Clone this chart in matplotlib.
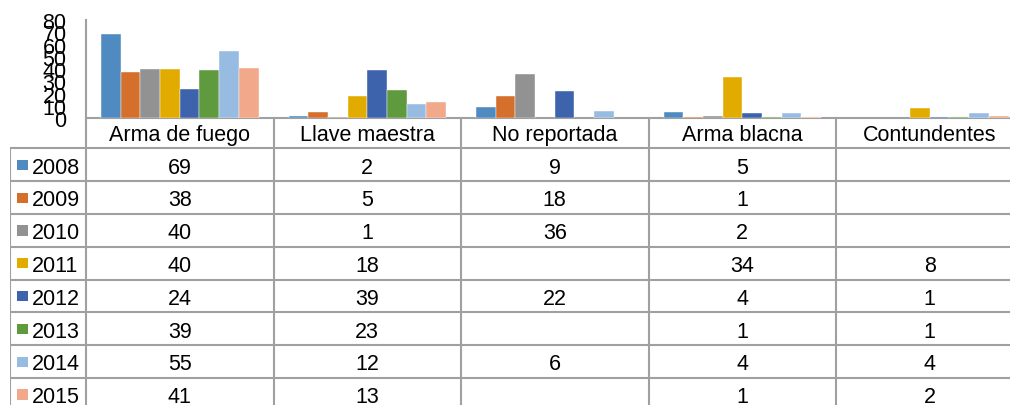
import matplotlib.pyplot as plt
import numpy as np
from matplotlib.patches import Rectangle

# Data read off the chart / table (None = blank cell, no bar)
categories = ['Arma de fuego', 'Llave maestra', 'No reportada', 'Arma blacna', 'Contundentes']
years = ['2008', '2009', '2010', '2011', '2012', '2013', '2014', '2015']
v2008 = [69, 2, 9, 5, None]
v2009 = [38, 5, 18, 1, None]
v2010 = [40, 1, 36, 2, None]
v2011 = [40, 18, None, 34, 8]
v2012 = [24, 39, 22, 4, 1]
v2013 = [39, 23, None, 1, 1]
v2014 = [55, 12, 6, 4, 4]
v2015 = [41, 13, None, 1, 2]
series = [v2008, v2009, v2010, v2011, v2012, v2013, v2014, v2015]
colors = ['#4F8BC0', '#D4702C', '#929292', '#E2AB00', '#3C63AC', '#5F9A3F', '#98BBE1', '#F1A88B']
y_ticks = [0, 10, 20, 30, 40, 50, 60, 70, 80]

plt.rcParams['font.family'] = ['Liberation Sans', 'DejaVu Sans']
FS = 15.5
GRID = '#A0A0A0'

W, H = 1010, 406
fig = plt.figure(figsize=(W / 100, H / 100), dpi=100)

# pixel layout of the chart + data table
x0 = 86          # left of first category column
cw = 187.5       # category column width
y_top = 21       # top of value axis
y_base = 119.3   # zero line / top of table header
head_h = 30
row_h = 32.8
x_left = 10      # left edge of legend column
n_cat = len(categories)
x_right = x0 + n_cat * cw
y_bottom = y_base + head_h + len(years) * row_h

# bar chart (bars sit above the axis line so tiny values still show)
ax = fig.add_axes([x0 / W, 1 - y_base / H, n_cat * cw / W, (y_base - y_top) / H])
bw = 0.105
pos = np.arange(n_cat)
for i, (vals, c) in enumerate(zip(series, colors)):
    h = [np.nan if v is None else v for v in vals]
    ax.bar(pos + (i - 3.5) * bw, h, bw, color=c, edgecolor='white', linewidth=0.3, zorder=3)
ax.set_xlim(-0.5, n_cat - 0.5)
ax.set_ylim(0, 80)
ax.set_yticks(y_ticks)
ax.set_yticklabels([str(t) for t in y_ticks], fontsize=FS)
ax.tick_params(axis='y', length=0, pad=14)
ax.set_xticks([])
for s in ['top', 'right']:
    ax.spines[s].set_visible(False)
for s in ['left', 'bottom']:
    ax.spines[s].set_color(GRID)
    ax.spines[s].set_linewidth(1.5)
ax.patch.set_alpha(0)

# data table underneath, drawn in pixel units
tax = fig.add_axes([x_left / W, 1 - y_bottom / H, (x_right - x_left) / W, (y_bottom - y_base) / H])
tax.set_xlim(x_left, x_right)
tax.set_ylim(y_bottom, y_base)
tax.axis('off')

lw = 1.5
# vertical lines
tax.plot([x_left, x_left], [y_base + head_h, y_bottom], color=GRID, lw=lw)
for k in range(n_cat + 1):
    xv = x0 + k * cw
    tax.plot([xv, xv], [y_base, y_bottom], color=GRID, lw=lw)
# horizontal lines
for r in range(len(years)):
    yh = y_base + head_h + r * row_h
    tax.plot([x_left, x_right], [yh, yh], color=GRID, lw=lw)

# header
for k, cat in enumerate(categories):
    tax.text(x0 + (k + 0.5) * cw, y_base + 21.4, cat, ha='center', va='baseline', fontsize=FS)

# rows
for r, (yr, vals, c) in enumerate(zip(years, series, colors)):
    top = y_base + head_h + r * row_h
    tax.add_patch(Rectangle((17.3, top + 11.4), 10.3, 10.3, color=c, lw=0))
    tax.text(31.5, top + 24.2, yr, ha='left', va='baseline', fontsize=FS)
    for k, v in enumerate(vals):
        if v is not None:
            tax.text(x0 + (k + 0.5) * cw, top + 24.2, str(v), ha='center', va='baseline', fontsize=FS)

fig.savefig('out.png', dpi=100)
